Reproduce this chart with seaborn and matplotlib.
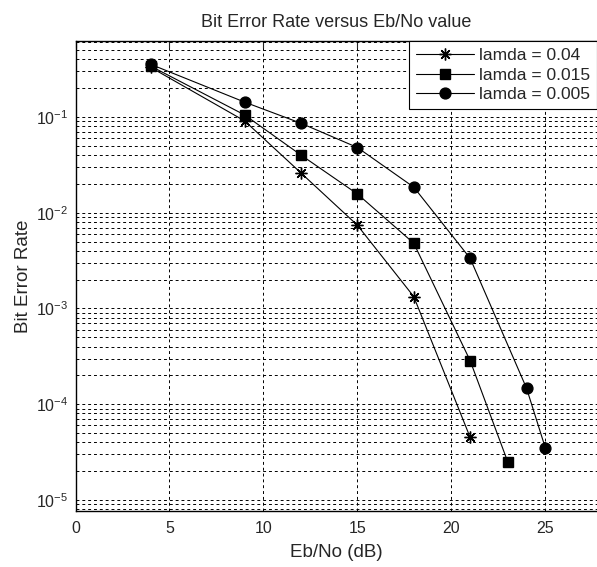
import numpy as np
import pandas as pd
import matplotlib
matplotlib.use("Agg")
import matplotlib.pyplot as plt
import matplotlib.ticker as mticker
import seaborn as sns

# Eb/No (dB) points for each lamda curve
ebno_004 = [4, 9, 12, 15, 18, 21]
ber_004 = [0.33, 0.091, 0.026, 0.0074, 0.00133, 4.5e-5]

ebno_0015 = [4, 9, 12, 15, 18, 21, 23]
ber_0015 = [0.34, 0.105, 0.040, 0.0157, 0.0048, 2.85e-4, 2.5e-5]

ebno_0005 = [4, 9, 12, 15, 18, 21, 24, 25]
ber_0005 = [0.355, 0.143, 0.086, 0.048, 0.0185, 0.00334, 1.47e-4, 3.5e-5]

labels = ["lamda = 0.04", "lamda = 0.015", "lamda = 0.005"]
xticks = [0, 5, 10, 15, 20, 25]

sns.set_style("white")
plt.rcParams["font.family"] = ["Liberation Sans", "DejaVu Sans"]
plt.rcParams["mathtext.fontset"] = "custom"
plt.rcParams["mathtext.rm"] = "Liberation Sans"
plt.rcParams["mathtext.it"] = "Liberation Sans"

fig = plt.figure(figsize=(5.97, 5.67), dpi=100)
ax = fig.add_axes([0.1265, 0.0988, 0.8735, 0.8289])

series = [(ebno_004, ber_004, (8, 2, 0), 8.5),
          (ebno_0015, ber_0015, "s", 7.5),
          (ebno_0005, ber_0005, "o", 7.8)]
for (xs, ys, mk, ms), lab in zip(series, labels):
    df = pd.DataFrame({"ebno": xs, "ber": ys})
    sns.lineplot(data=df, x="ebno", y="ber", ax=ax, color="black", lw=0.8,
                 marker=mk, markersize=ms, markeredgecolor="black",
                 markerfacecolor="black", markeredgewidth=1.0, label=lab)

ax.set_yscale("log")
ax.set_xlim(0, 27.75)
ax.set_ylim(7.67e-6, 0.622)
ax.set_xticks(xticks)
ax.yaxis.set_major_locator(mticker.LogLocator(base=10, numticks=20))
ax.yaxis.set_minor_locator(mticker.LogLocator(base=10, subs=np.arange(2, 10), numticks=20))
ax.yaxis.set_minor_formatter(mticker.NullFormatter())
ax.yaxis.set_major_formatter(mticker.FuncFormatter(lambda v, p: r"$10^{%d}$" % round(np.log10(v))))

ax.grid(True, which="major", axis="both", color="black", linestyle=(0, (3, 3)), lw=0.7)
ax.grid(True, which="minor", axis="y", color="black", linestyle=(0, (3, 3)), lw=0.7)

ax.tick_params(axis="both", which="both", direction="in", top=True, labelsize=11.5)
ax.tick_params(axis="x", which="major", pad=7)
ax.tick_params(axis="y", which="major", pad=5)
ax.tick_params(axis="both", which="major", length=5)
ax.tick_params(axis="both", which="minor", length=3)
for side in ["left", "bottom", "top"]:
    ax.spines[side].set_color("black")
    ax.spines[side].set_linewidth(1.0)
ax.spines["right"].set_visible(False)

ax.set_xlabel("Eb/No (dB)", fontsize=13.5, labelpad=6)
ax.set_ylabel("Bit Error Rate", fontsize=13.5, labelpad=3)
ax.set_title("Bit Error Rate versus Eb/No value", fontsize=13, pad=10)

leg = ax.legend(loc="upper right", bbox_to_anchor=(1.0, 1.0), borderaxespad=0,
                fontsize=12.5, handlelength=3.3, fancybox=False, framealpha=1,
                edgecolor="black", labelspacing=0.25, handletextpad=0.3)
leg.get_frame().set_linewidth(0.8)

fig.savefig("out.png", dpi=100)
